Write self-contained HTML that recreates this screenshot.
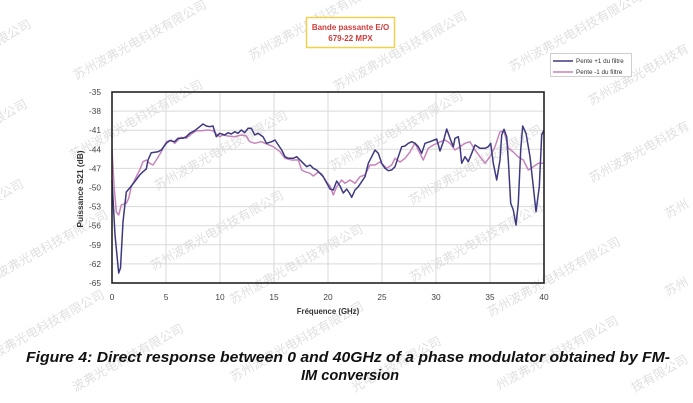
<!DOCTYPE html>
<html>
<head>
<meta charset="utf-8">
<style>
html,body{margin:0;padding:0;background:#fff;width:693px;height:403px;overflow:hidden;}
svg{display:block;overflow:hidden;}
</style>
</head>
<body>
<svg width="693" height="403" viewBox="0 0 693 403" xmlns="http://www.w3.org/2000/svg">
<rect x="0" y="0" width="693" height="403" fill="#fff"/>

<!-- watermarks -->
<g font-family="'Liberation Sans','Noto Sans CJK SC',sans-serif" font-size="12.5" fill="#e0e0e0" text-anchor="middle">
  <text transform="translate(-33.6,63.2) rotate(-29)">苏州波弗光电科技有限公司</text>
  <text transform="translate(-37.3,143.1) rotate(-29)">苏州波弗光电科技有限公司</text>
  <text transform="translate(142,43.7) rotate(-29)">苏州波弗光电科技有限公司</text>
  <text transform="translate(-41.1,222.9) rotate(-29)">苏州波弗光电科技有限公司</text>
  <text transform="translate(138.2,123.5) rotate(-29)">苏州波弗光电科技有限公司</text>
  <text transform="translate(317.4,24.1) rotate(-29)">苏州波弗光电科技有限公司</text>
  <text transform="translate(43.5,253.7) rotate(-29)">苏州波弗光电科技有限公司</text>
  <text transform="translate(222.8,154.3) rotate(-29)">苏州波弗光电科技有限公司</text>
  <text transform="translate(402,54.9) rotate(-29)">苏州波弗光电科技有限公司</text>
  <text transform="translate(39.7,333.6) rotate(-29)">苏州波弗光电科技有限公司</text>
  <text transform="translate(219,234.2) rotate(-29)">苏州波弗光电科技有限公司</text>
  <text transform="translate(398.3,134.8) rotate(-29)">苏州波弗光电科技有限公司</text>
  <text transform="translate(577.6,35.4) rotate(-29)">苏州波弗光电科技有限公司</text>
  <text transform="translate(184.6,331) rotate(-29)" text-anchor="end">波弗光电科技有限公司</text>
  <text transform="translate(298.3,268) rotate(-29)">苏州波弗光电科技有限公司</text>
  <text transform="translate(477.6,168.6) rotate(-29)">苏州波弗光电科技有限公司</text>
  <text transform="translate(591.3,105.6) rotate(-29)" text-anchor="start">苏州波弗光电科技有</text>
  <text transform="translate(298.9,345.3) rotate(-29)">苏州波弗光电科技有限公司</text>
  <text transform="translate(478.2,245.9) rotate(-29)">苏州波弗光电科技有限公司</text>
  <text transform="translate(591.9,182.9) rotate(-29)" text-anchor="start">苏州波弗光电科技有</text>
  <text transform="translate(442.1,343.7) rotate(-29)" text-anchor="end">光电科技有限公司</text>
  <text transform="translate(555.8,280.7) rotate(-29)">苏州波弗光电科技有限公司</text>
  <text transform="translate(667.8,218.7) rotate(-29)" text-anchor="start">苏州</text>
  <text transform="translate(619.3,323.3) rotate(-29)" text-anchor="end">州波弗光电科技有限公司</text>
  <text transform="translate(667.4,296.6) rotate(-29)" text-anchor="start">苏州</text>
  <text transform="translate(689,362) rotate(-29)" text-anchor="end">技有限公司</text>
</g>

<!-- title box -->
<rect x="306.5" y="17.5" width="88" height="30" fill="#fff" stroke="#f0d24a" stroke-width="1.5"/>
<text x="350.5" y="30" font-family="'Liberation Sans',sans-serif" font-size="8" font-weight="bold" fill="#d23a3a" text-anchor="middle">Bande passante E/O</text>
<text x="350.5" y="41" font-family="'Liberation Sans',sans-serif" font-size="8" font-weight="bold" fill="#d23a3a" text-anchor="middle">679-22 MPX</text>

<!-- legend -->
<rect x="550.5" y="53.5" width="81" height="23" fill="#fff" stroke="#cfcfcf" stroke-width="1"/>
<line x1="553" y1="61" x2="573" y2="61" stroke="#3d3a80" stroke-width="1.5"/>
<line x1="553" y1="72" x2="573" y2="72" stroke="#c784bc" stroke-width="1.5"/>
<text x="576" y="63" font-family="'Liberation Sans',sans-serif" font-size="6.3" fill="#333">Pente +1 du filtre</text>
<text x="576" y="74" font-family="'Liberation Sans',sans-serif" font-size="6.3" fill="#333">Pente -1 du filtre</text>

<!-- grid -->
<g stroke="#d9d9d9" stroke-width="1">
  <line x1="112" y1="111.1" x2="544" y2="111.1"/>
  <line x1="112" y1="130.2" x2="544" y2="130.2"/>
  <line x1="112" y1="149.3" x2="544" y2="149.3"/>
  <line x1="112" y1="168.4" x2="544" y2="168.4"/>
  <line x1="112" y1="187.5" x2="544" y2="187.5"/>
  <line x1="112" y1="206.6" x2="544" y2="206.6"/>
  <line x1="112" y1="225.7" x2="544" y2="225.7"/>
  <line x1="112" y1="244.8" x2="544" y2="244.8"/>
  <line x1="112" y1="263.9" x2="544" y2="263.9"/>
  <line x1="166" y1="92" x2="166" y2="283"/>
  <line x1="220" y1="92" x2="220" y2="283"/>
  <line x1="274" y1="92" x2="274" y2="283"/>
  <line x1="328" y1="92" x2="328" y2="283"/>
  <line x1="382" y1="92" x2="382" y2="283"/>
  <line x1="436" y1="92" x2="436" y2="283"/>
  <line x1="490" y1="92" x2="490" y2="283"/>
</g>

<!-- pink series -->
<polyline fill="none" stroke="#c784bc" stroke-width="1.5" stroke-linejoin="round" points="
112,150 114,185 116.3,212 118.7,215 121.3,205 126.3,203.3 128.7,198.3 131.3,186.7 136.3,176.7 139.7,170 143,161.7 146.3,160 149.7,163.3 153,165 156.3,160 161.3,151.7 166.3,141.7 171.3,140 174.7,143.3 178,140 181.3,137.3 186.3,138.3 191.3,134 196.3,130.7 201.3,130.7 208,130 213,130.7 216.3,134 219.7,136.7 223,135 228,136 234.7,136.7 241.3,135 246.3,136 249.7,141.7 254.7,143.3 261.3,141.7 266.7,144 273.3,146.7 280,151.7 285,158.3 291.7,160 298.3,160 301.7,170 305,171.7 310,173.3 313.3,176 318.3,172 321.7,174 325,180 330,186 333.3,195 336.7,186.7 341.7,180 345,183.3 350,180 355,183.3 360,176.7 365,175 370,165 375,165 380,162 383.3,165 386.7,168.3 391.7,165 395,158.3 400,162 405,158.3 410,152 415,143 418.3,150 423.3,160 428.3,148.3 433.3,145 440,142 445,140 450,143.3 455,150 460,146.7 465,143.3 470,141.7 475,150 480,156.7 485,163.3 490,156.7 495,146.7 500,131.7 504,131 508.3,148 513.3,152 518.3,157 523.3,160 528.3,170 533.3,166.7 538.3,163.3 544,163.3"/>

<!-- dark series -->
<polyline fill="none" stroke="#3d3a80" stroke-width="1.5" stroke-linejoin="round" points="
112,180 115,235 118.7,273 120.5,268 123,222 126.3,192 129.7,188 134.7,181.7 139.7,175 143,171.7 146.3,169 148,160 151.3,152.7 158,151.7 161.3,150 166.3,143.3 169.7,140.7 174.7,141.7 178,138.3 183,138.3 186.3,136.7 189.7,133.3 194.7,130.7 199.7,126.7 203,124 206.3,126 209.7,126.7 213,126 216.3,136.7 219.7,133.3 224.7,135 228,132.7 231.3,134 234.7,131.7 238,133.3 241.3,130 244.7,132.7 248,128.3 251.3,128.3 254.7,135 258,133.3 263,136.7 266.5,143.3 271.7,141.7 275,140 278.3,145 281.7,150 285,156.7 288.3,158.3 293.3,158.3 296.7,156.7 300,160 303.3,163.3 306.7,166.7 310,165 313.3,168.3 316.7,170 320,173.3 323.3,176.7 326.7,183 330,189 333.3,190 336.7,181 340,186 343.3,193 346.7,189 350,194 351.7,197.3 355,190 358.3,186.7 361.7,181.7 365,176.7 368.3,163.3 371.7,156.7 375,150 378.3,153.3 381.7,163.3 385,168.3 388.3,170.7 391.7,170 395,166.7 398.3,156.7 401.7,146.7 405,146 408.3,143.3 411.7,141.7 415,143.3 418.3,146.7 421.7,153.3 425,143.3 430,141.7 436.7,139 440,151 443.3,141.7 446.7,129 450,138.3 453.3,146.7 455,138.3 458.3,136.7 460,146.7 461.7,163.3 465,156.7 468.3,161.7 471.7,153.3 475,145 480,148.3 485,148.3 488.3,146.7 490.7,143.3 493.3,163.3 496.7,180 500,160 501.7,135 504,129.3 506.7,136.7 508.3,160 510.7,203.3 513.3,210 516,225 518.3,203.3 520.7,150 522.7,126 526,133.3 530,156.7 533.3,186.7 536,211.7 539.3,186.7 541.7,135 544,130"/>

<!-- plot border -->
<rect x="112" y="92" width="432" height="191" fill="none" stroke="#222" stroke-width="1.6"/>

<!-- y tick labels -->
<g font-family="'Liberation Sans',sans-serif" font-size="8.3" fill="#444" text-anchor="end">
  <text x="101" y="95">-35</text>
  <text x="101" y="114.1">-38</text>
  <text x="101" y="133.2">-41</text>
  <text x="101" y="152.3">-44</text>
  <text x="101" y="171.4">-47</text>
  <text x="101" y="190.5">-50</text>
  <text x="101" y="209.6">-53</text>
  <text x="101" y="228.7">-56</text>
  <text x="101" y="247.8">-59</text>
  <text x="101" y="266.9">-62</text>
  <text x="101" y="286">-65</text>
</g>

<!-- x tick labels -->
<g font-family="'Liberation Sans',sans-serif" font-size="8.3" fill="#444" text-anchor="middle">
  <text x="112" y="300">0</text>
  <text x="166" y="300">5</text>
  <text x="220" y="300">10</text>
  <text x="274" y="300">15</text>
  <text x="328" y="300">20</text>
  <text x="382" y="300">25</text>
  <text x="436" y="300">30</text>
  <text x="490" y="300">35</text>
  <text x="544" y="300">40</text>
</g>

<!-- axis titles -->
<text x="328" y="314" font-family="'Liberation Sans',sans-serif" font-size="7.8" font-weight="bold" fill="#333" text-anchor="middle">Fréquence (GHz)</text>
<text transform="translate(83,189) rotate(-90)" x="0" y="0" font-family="'Liberation Sans',sans-serif" font-size="8.3" font-weight="bold" fill="#333" text-anchor="middle">Puissance S21 (dB)</text>

<!-- caption -->
<text x="348" y="362" font-family="'Liberation Sans',sans-serif" font-size="14.6" font-weight="bold" font-style="italic" fill="#111" text-anchor="middle" textLength="644" lengthAdjust="spacingAndGlyphs">Figure 4: Direct response between 0 and 40GHz of a phase modulator obtained by FM-</text>
<text x="350" y="380" font-family="'Liberation Sans',sans-serif" font-size="14.6" font-weight="bold" font-style="italic" fill="#111" text-anchor="middle">IM conversion</text>
</svg>
</body>
</html>
